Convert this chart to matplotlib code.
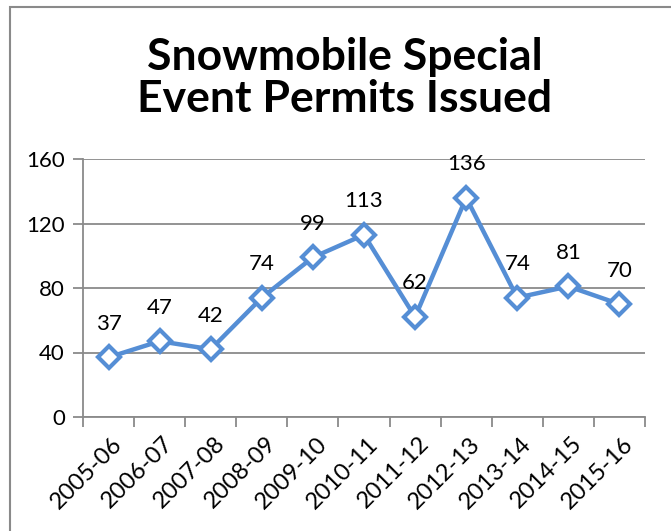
import matplotlib.pyplot as plt
from matplotlib.patches import Rectangle
from matplotlib.transforms import ScaledTranslation

seasons = ["2005-06", "2006-07", "2007-08", "2008-09", "2009-10", "2010-11",
           "2011-12", "2012-13", "2013-14", "2014-15", "2015-16"]
permits = [37, 47, 42, 74, 99, 113, 62, 136, 74, 81, 70]
yticks = [0, 40, 80, 120, 160]

plt.rcParams['font.family'] = ['Lato', 'DejaVu Sans']

blue = "#558ed5"
grey = "#8a8a8a"

fig = plt.figure(figsize=(6.71, 5.31), dpi=100)
ax = fig.add_axes([83 / 671, 1 - 417 / 531, 562 / 671, 258 / 531])

x = list(range(len(seasons)))
ax.plot(x, permits, color=blue, lw=3.2, marker="D", ms=11,
        mfc="white", mec=blue, mew=3, zorder=3, clip_on=False)
for xi, v in zip(x, permits):
    ax.annotate(str(v), (xi, v), xytext=(0, 17), textcoords="offset points",
                ha="center", va="bottom", fontsize=16)

ax.set_xlim(-0.5, len(seasons) - 0.5)
ax.set_ylim(0, 160)
ax.set_yticks(yticks)
ax.set_yticklabels([str(t) for t in yticks], fontsize=16)
ax.yaxis.grid(True, color=grey, lw=1.3)
ax.set_axisbelow(True)

ax.set_xticks(x)
ax.set_xticklabels(seasons, rotation=45, ha="right", va="top",
                   rotation_mode="anchor", fontsize=17)
ax.tick_params(axis="x", which="major", length=0, pad=0)
shift = ScaledTranslation(3 / 100, -16 / 100, fig.dpi_scale_trans)
for lab in ax.get_xticklabels():
    lab.set_transform(lab.get_transform() + shift)
ax.set_xticks([i - 0.5 for i in range(len(seasons) + 1)], minor=True)
ax.tick_params(axis="x", which="minor", length=7, color=grey, width=1.3)
ax.tick_params(axis="y", length=7, color=grey, width=1.3, pad=6)

for s in ["top", "right"]:
    ax.spines[s].set_visible(False)
for s in ["left", "bottom"]:
    ax.spines[s].set_color(grey)
    ax.spines[s].set_linewidth(1.3)

fig.text(0.514, 0.853, "Snowmobile Special\nEvent Permits Issued", ha="center",
         va="center", fontsize=32, fontweight="bold", linespacing=1.05)

fig.patches.append(Rectangle((10 / 671, -0.1), 1.2, 1 - 7 / 531 + 0.1,
                             transform=fig.transFigure, fill=False,
                             ec=grey, lw=1.5))

fig.savefig("out.png", dpi=100)
